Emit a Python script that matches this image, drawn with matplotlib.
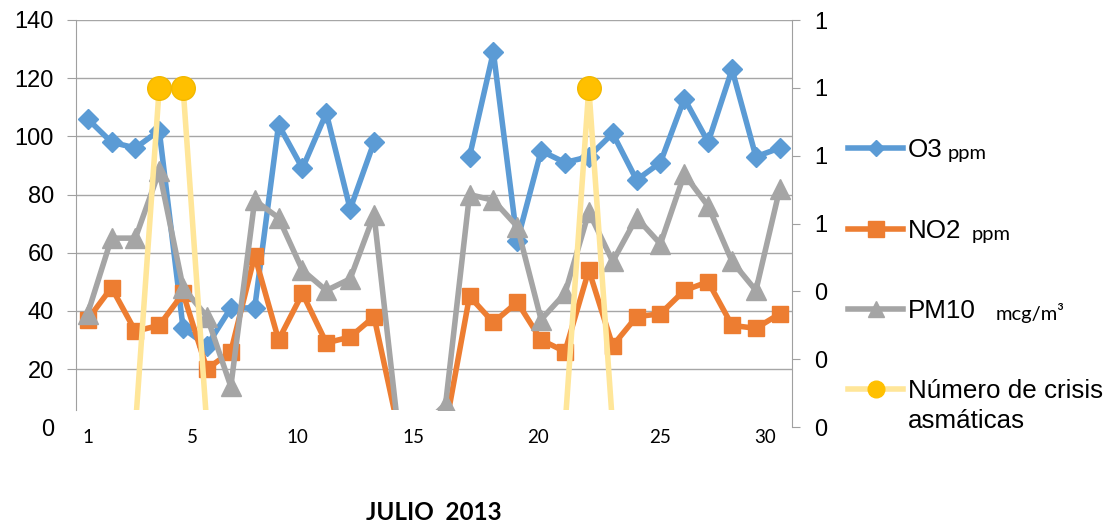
import matplotlib
matplotlib.use("Agg")
import matplotlib.pyplot as plt
import numpy as np
from matplotlib.lines import Line2D
from matplotlib.patches import Rectangle
from matplotlib.ticker import FormatStrFormatter

plt.rcParams['font.family'] = ['Liberation Sans', 'DejaVu Sans']

# daily readings, July 2013 (nan = no reading)
nan = np.nan
days = np.arange(1, 31)
o3 = [106, 98, 96, 102, 34, 28, 41, 41, 104, 89, 108, 75, 98, nan, nan, nan,
      93, 129, 64, 95, 91, 93, 101, 85, 91, 113, 98, 123, 93, 96]
no2 = [37, 48, 33, 35, 46, 20, 26, 59, 30, 46, 29, 31, 38, 0, 0, 0,
       45, 36, 43, 30, 26, 54, 28, 38, 39, 47, 50, 35, 34, 39]
pm10 = [39, 65, 65, 88, 48, 38, 14, 78, 72, 54, 47, 51, 73, 0, 0, 8,
        80, 78, 69, 37, 46, 74, 57, 72, 63, 87, 76, 57, 47, 82]
crisis = [0, 0, 0, 1, 1, 0, 0, 0, 0, 0, 0, 0, 0, 0, 0, 0,
          0, 0, 0, 0, 0, 1, 0, 0, 0, 0, 0, 0, 0, 0]

day_labels = ['1', '5', '10', '15', '20', '25', '30']
# where the labels sit under the axis (they are not centred on the days)
day_label_pos = [1, 5.37, 9.77, 14.67, 19.87, 24.97, 29.38]

BLUE = '#5B9BD5'
ORANGE = '#ED7D31'
GREY = '#A5A5A5'
YELLOW = '#FFC000'
PALE = '#FFE699'
AXIS = '#A0A0A0'

W, H = 1114, 524
fig = plt.figure(figsize=(W / 100, H / 100), dpi=100)


def fx(x):
    return x / W


def fy(y):
    return 1 - y / H


ax = fig.add_axes([fx(75.7), fy(427.2), (791.7 - 75.7) / W, (427.2 - 20) / H])
ax2 = ax.twinx()

ax.set_xlim(0.5, 30.5)
ax.set_ylim(0, 140)
ax2.set_ylim(0, 1.2)

# plot area stops a bit above zero
clip = Rectangle((0.5, 5.9), 30, 134.1, transform=ax.transData)

lines = []
lines += ax.plot(days, o3, color=BLUE, lw=4, marker='D', ms=10, mec=BLUE)
lines += ax.plot(days, no2, color=ORANGE, lw=4, marker='s', ms=12, mec=ORANGE)
lines += ax.plot(days, pm10, color=GREY, lw=4, marker='^', ms=14, mec=GREY)
lines += ax2.plot(days, crisis, color=PALE, lw=4, marker='o', ms=17,
                  mfc=YELLOW, mec='#F2B800')
for ln in lines:
    ln.set_clip_path(clip)

# left axis
ax.set_yticks(range(0, 141, 20))
ax.tick_params(axis='y', length=6.3, color=AXIS, labelsize=17, pad=9.5)
ax.yaxis.grid(True, color='#A6A6A6', lw=1)
ax.set_axisbelow(True)
t0 = ax.yaxis.get_major_ticks()[0]
t0.tick1line.set_visible(False)
t0.gridline.set_visible(False)
for s in ['top', 'bottom', 'right']:
    ax.spines[s].set_visible(False)
ax.spines['left'].set_color(AXIS)
ax.spines['left'].set_bounds(5.9, 140)

ax.set_xticks(day_label_pos, day_labels, fontfamily='Lato', fontsize=13.5)
ax.tick_params(axis='x', length=0, pad=1)

# right axis
ax2.set_yticks(np.arange(0, 1.21, 0.2))
ax2.yaxis.set_major_formatter(FormatStrFormatter('%.0f'))
ax2.tick_params(axis='y', length=6, color=AXIS, labelsize=17, pad=10)
for s in ['top', 'bottom', 'left']:
    ax2.spines[s].set_visible(False)
ax2.spines['right'].set_color(AXIS)

# legend, drawn by hand because of the small unit text
entries = [
    (BLUE, BLUE, 'D', 8, 148, 'O3', 'ppm', 948),
    (ORANGE, ORANGE, 's', 11, 229, 'NO2', 'ppm', 972),
    (GREY, GREY, '^', 12, 309, 'PM10', 'mcg/m³', 996),
    (PALE, YELLOW, 'o', 12, 389, 'Número de crisis', None, None),
]
for lc, mc, mk, ms, y, name, unit, ux in entries:
    fig.add_artist(Line2D([fx(848), fx(903)], [fy(y), fy(y)], color=lc, lw=4,
                          transform=fig.transFigure))
    fig.add_artist(Line2D([fx(876)], [fy(y)], marker=mk, ms=ms, mfc=mc, mec=mc,
                          ls='none', transform=fig.transFigure))
    fig.text(fx(908), fy(y + 9), name, fontsize=18.7, va='baseline')
    if unit:
        fig.text(fx(ux), fy(y + 11), unit, fontsize=14.5, fontfamily='Lato',
                 va='baseline')
fig.text(fx(908), fy(428), 'asmáticas', fontsize=18.7, va='baseline')

fig.text(fx(434), fy(520), 'JULIO  2013', fontsize=17.5, fontweight='bold',
         fontfamily='Lato', ha='center', va='baseline')

fig.savefig('out.png', dpi=100)
